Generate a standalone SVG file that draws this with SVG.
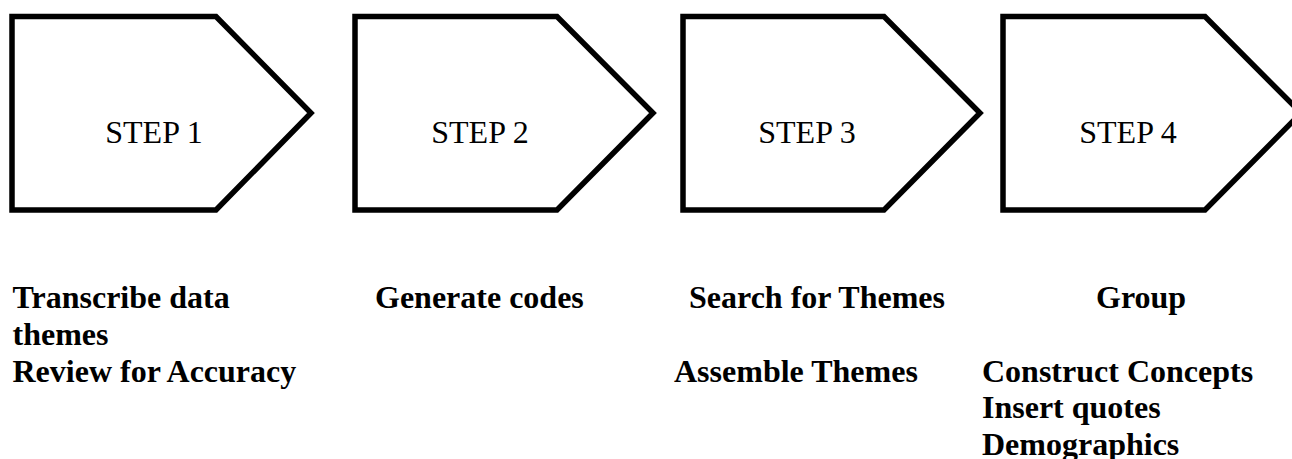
<svg xmlns="http://www.w3.org/2000/svg" width="1292" height="459" viewBox="0 0 1292 459">
  <style>
    .step { fill: #ffffff; stroke: #000000; stroke-width: 5.5; stroke-linejoin: miter; }
    .title { font-family: "Liberation Serif", "Times New Roman", serif; font-size: 32px; fill: #000000; text-anchor: middle; }
    .task { font-family: "Liberation Serif", "Times New Roman", serif; font-size: 32px; font-weight: bold; fill: #000000; }
  </style>
  <rect width="1292" height="459" fill="#ffffff"/>

  <g id="step1">
    <polygon class="step" points="12,16.5 216,16.5 311,113 216,210 12,210"/>
    <text class="title" x="154" y="143">STEP 1</text>
  </g>
  <g id="step2">
    <polygon class="step" points="355,16.5 557,16.5 653,113 557,210 355,210"/>
    <text class="title" x="480" y="143">STEP 2</text>
  </g>
  <g id="step3">
    <polygon class="step" points="683,16.5 884,16.5 980,113 884,210 683,210"/>
    <text class="title" x="807" y="143">STEP 3</text>
  </g>
  <g id="step4">
    <polygon class="step" points="1003,16.5 1205,16.5 1301,113 1205,210 1003,210"/>
    <text class="title" x="1128" y="143">STEP 4</text>
  </g>

  <g id="connectors"></g>

  <g id="tasks1">
    <text class="task" x="12.5" y="308">Transcribe data</text>
    <text class="task" x="12.5" y="345">themes</text>
    <text class="task" x="12.5" y="381.5">Review for Accuracy</text>
  </g>
  <g id="tasks2">
    <text class="task" x="375" y="308">Generate codes</text>
  </g>
  <g id="tasks3">
    <text class="task" x="689" y="308">Search for Themes</text>
    <text class="task" x="674" y="381.5">Assemble Themes</text>
  </g>
  <g id="tasks4">
    <text class="task" x="1096" y="308">Group</text>
    <text class="task" x="982" y="381.5">Construct Concepts</text>
    <text class="task" x="982" y="418">Insert quotes</text>
    <text class="task" x="982" y="454.5">Demographics</text>
  </g>
</svg>
